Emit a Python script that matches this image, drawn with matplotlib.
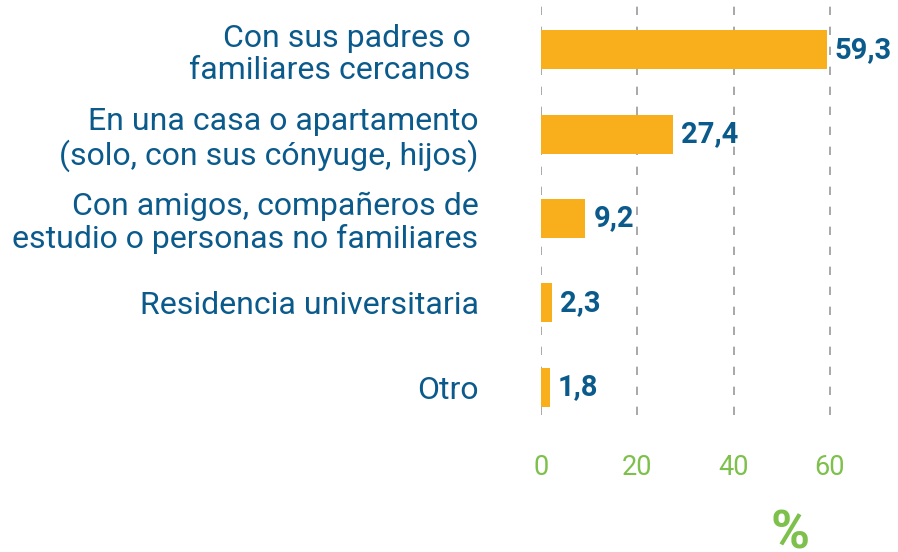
import matplotlib.pyplot as plt

plt.rcParams['font.family'] = ['Roboto', 'DejaVu Sans']

# data
categories = [
    "Con sus padres o \nfamiliares cercanos ",
    "En una casa o apartamento\n(solo, con sus cónyuge, hijos)",
    "Con amigos, compañeros de\nestudio o personas no familiares",
    "Residencia universitaria",
    "Otro",
]
values = [59.3, 27.4, 9.2, 2.3, 1.8]
xticks = [0, 20, 40, 60]

blue = '#0b5a8c'
orange = '#F9AE1B'
green = '#7DC04B'

fig = plt.figure(figsize=(8.98, 5.52), dpi=100)
ax = fig.add_axes([541 / 898, 1 - 415 / 552, 339 / 898, 415 / 552])

pos = list(range(len(categories)))
ax.barh(pos, values, height=0.46, color=orange, zorder=2)

ax.set_xlim(0, 70.4)
ax.set_ylim(4.33, -0.59)

ax.set_xticks(xticks)
ax.set_xticklabels([str(t) for t in xticks], color=green, fontsize=19.5)
ax.tick_params(axis='x', length=0, pad=28)

ax.set_yticks(pos)
ax.set_yticklabels(categories, color=blue, fontsize=23, linespacing=1.12)
ax.tick_params(axis='y', length=0, pad=45)

for t in xticks:
    ax.axvline(t, color='#9a9a9a', linestyle=(0, (5, 7)), linewidth=1.2, zorder=1)

for s in ax.spines.values():
    s.set_visible(False)

for p, v in zip(pos, values):
    ax.annotate(f"{v:.1f}".replace('.', ','), (v, p), xytext=(6, 0),
                textcoords='offset points', va='center', ha='left',
                color=blue, fontsize=21, fontweight='bold')

fig.text(790 / 898, 1 - 534 / 552, '%', color=green, fontsize=38,
         fontweight='bold', ha='center', va='center')

fig.savefig('out.png', dpi=100)
